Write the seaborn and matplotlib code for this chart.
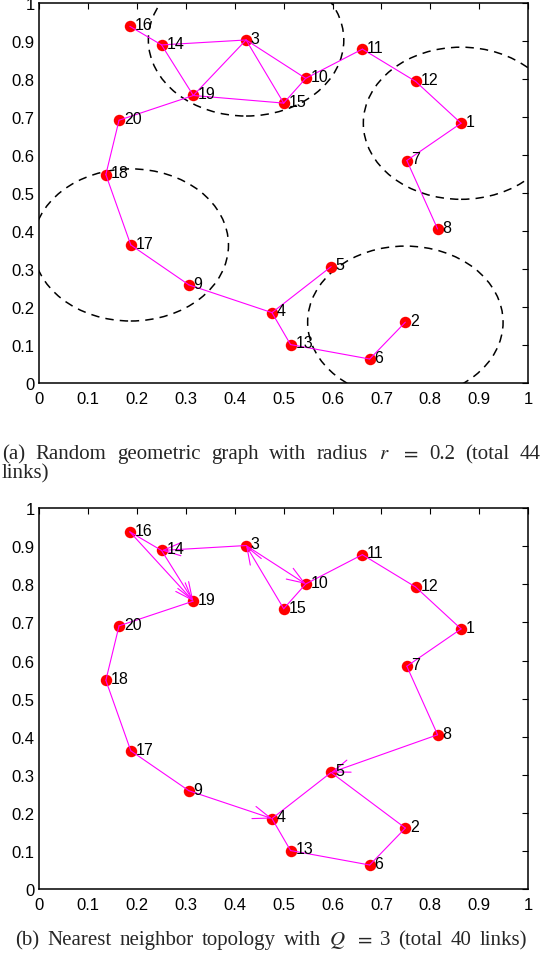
import numpy as np
import matplotlib
matplotlib.use("Agg")
import matplotlib.pyplot as plt
import seaborn as sns
from matplotlib.patches import Circle, FancyArrowPatch, ArrowStyle

# ---------------- data ----------------
node_ids = list(range(1, 21))
node_x = [0.863, 0.749, 0.423, 0.476, 0.597, 0.676, 0.752, 0.815, 0.306, 0.545,
          0.661, 0.770, 0.514, 0.250, 0.500, 0.185, 0.187, 0.136, 0.315, 0.163]
node_y = [0.683, 0.160, 0.902, 0.185, 0.306, 0.063, 0.585, 0.405, 0.258, 0.801,
          0.878, 0.793, 0.101, 0.889, 0.736, 0.938, 0.363, 0.548, 0.756, 0.691]

# (a) random geometric graph, radius r = 0.2 (undirected links)
rgg_edges = [(16, 14), (14, 3), (14, 19), (3, 19), (3, 10), (3, 15), (19, 15),
             (10, 15), (10, 11), (11, 12), (12, 1), (1, 7), (7, 8), (19, 20),
             (20, 18), (18, 17), (17, 9), (9, 4), (4, 5), (4, 13), (13, 6), (6, 2)]
radius = 0.2
circle_centers = [3, 1, 17, 2]

# (b) nearest neighbour topology Q = 3
nn_undirected = [(16, 14), (15, 10), (10, 11), (11, 12), (12, 1), (1, 7), (7, 8),
                 (5, 4), (5, 2), (2, 6), (6, 13), (13, 4), (17, 9), (18, 17),
                 (20, 18), (19, 20)]
nn_directed = [(16, 19), (14, 19), (3, 14), (15, 3), (3, 10), (8, 5), (9, 4)]

tick_vals = [0, 0.1, 0.2, 0.3, 0.4, 0.5, 0.6, 0.7, 0.8, 0.9, 1]
tick_labels = ["0", "0.1", "0.2", "0.3", "0.4", "0.5", "0.6", "0.7", "0.8", "0.9", "1"]

caption_a_words = ["(a)", "Random", "geometric", "graph", "with", "radius",
                   "$r$", "$=$", "0.2", "(total", "44"]
caption_a_line2 = "links)"
caption_b_words = ["(b)", "Nearest", "neighbor", "topology", "with", "$Q$", "$=$",
                   "3", "(total", "40", "links)"]

# ---------------- style ----------------
sns.set_style("white")
plt.rcParams["font.family"] = ["Liberation Sans", "DejaVu Sans"]
plt.rcParams["mathtext.fontset"] = "stix"

W, H = 548, 954
fig = plt.figure(figsize=(W / 100, H / 100), dpi=100)

def px_rect(left, right, top, bottom):
    return [left / W, 1 - bottom / H, (right - left) / W, (bottom - top) / H]

ax1 = fig.add_axes(px_rect(39.4, 528, 3.7, 384))
ax2 = fig.add_axes(px_rect(39.4, 528, 509.2, 890))

MAG = "#ff00ff"
pos = {n: (x, y) for n, x, y in zip(node_ids, node_x, node_y)}


def base(ax):
    sns.scatterplot(x=node_x, y=node_y, ax=ax, color="#ff0000", s=68,
                    edgecolor="#ff0000", linewidth=0, zorder=2, legend=False)
    for n in node_ids:
        ax.annotate(str(n), pos[n], xytext=(3.4, 1.2), textcoords="offset points",
                    ha="left", va="center", fontsize=11.5, color="black", zorder=5)
    ax.set_xlim(0, 1)
    ax.set_ylim(0, 1)
    ax.set_xticks(tick_vals)
    ax.set_xticklabels(tick_labels)
    ax.set_yticks(tick_vals)
    ax.set_yticklabels(tick_labels)
    ax.tick_params(direction="in", length=4, width=0.8, top=True, right=True,
                   labelsize=12, colors="black")
    ax.tick_params(axis="x", pad=5.5)
    ax.tick_params(axis="y", pad=3.5)
    for sp in ax.spines.values():
        sp.set_visible(True)
        sp.set_color("black")
        sp.set_linewidth(1.1)
    ax.set_xlabel("")
    ax.set_ylabel("")


# ---- (a) ----
base(ax1)
for a, b in rgg_edges:
    ax1.plot([pos[a][0], pos[b][0]], [pos[a][1], pos[b][1]], color=MAG,
             lw=0.8, zorder=3)
for c in circle_centers:
    circ = Circle(pos[c], radius, fill=False, edgecolor="black", lw=1.1,
                  linestyle=(0, (5.5, 4)), zorder=1)
    ax1.add_patch(circ)

# ---- (b) ----
base(ax2)
for a, b in nn_undirected:
    ax2.plot([pos[a][0], pos[b][0]], [pos[a][1], pos[b][1]], color=MAG,
             lw=0.8, zorder=3)
for a, b in nn_directed:
    arr = FancyArrowPatch(pos[a], pos[b],
                          arrowstyle=ArrowStyle("->", head_length=12.5, head_width=4.6),
                          mutation_scale=1, shrinkA=0, shrinkB=0, color=MAG,
                          lw=0.8, zorder=3)
    ax2.add_patch(arr)

# ---- captions ----
serif = ["Liberation Serif", "DejaVu Serif"]
cap_size = 15
renderer = fig.canvas.get_renderer()


def justified(words, x_start, x_end, y_base):
    texts = [fig.text(0, 0, w, fontsize=cap_size, family=serif, va="baseline",
                      ha="left") for w in words]
    widths = [t.get_window_extent(renderer).width for t in texts]
    gap = (x_end - x_start - sum(widths)) / (len(texts) - 1)
    x = x_start
    for t, w in zip(texts, widths):
        t.set_position((x / W, 1 - y_base / H))
        x += w + gap


justified(caption_a_words, 2.0, 541.0, 459)
fig.text(2 / W, 1 - 478 / H, caption_a_line2, fontsize=cap_size, family=serif,
         va="baseline", ha="left")
justified(caption_b_words, 15.0, 527.0, 945)

fig.savefig("out.png", dpi=100)
